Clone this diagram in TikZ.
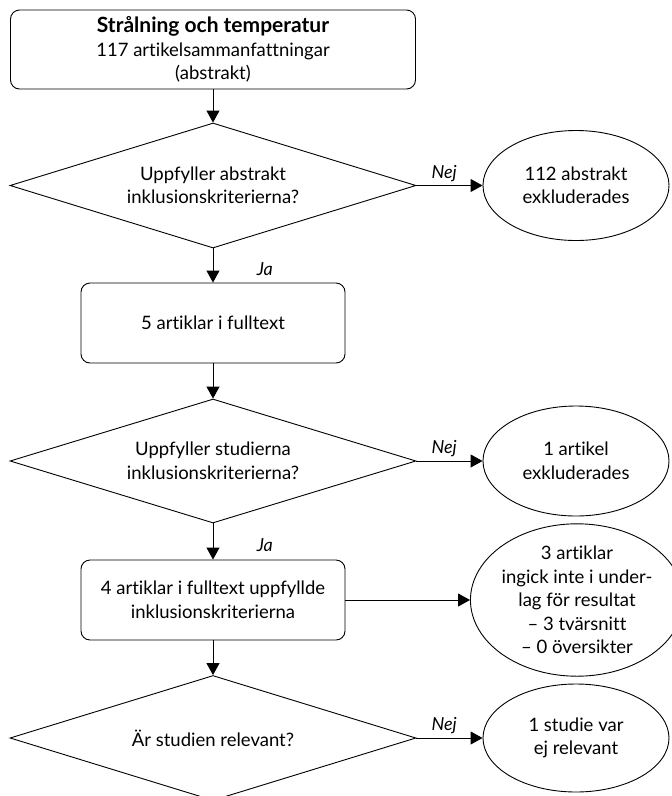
\documentclass[tikz,border=0pt]{standalone}
\usepackage{fontspec}
\setmainfont{Lato}[Ligatures=NoCommon]
\usetikzlibrary{shapes.geometric,arrows.meta}
\begin{document}
\begin{tikzpicture}[x=1pt,y=-1pt,line width=0.9pt,
  every node/.style={font=\fontsize{18.5}{23.5}\selectfont},
  box/.style={draw,rounded corners=9pt,align=center,inner sep=0pt},
  decision/.style={draw,diamond,aspect=3.2,inner sep=0pt,align=center,
    minimum width=406pt},
  outcome/.style={draw,ellipse,inner sep=0pt,align=center,
    minimum width=186pt,minimum height=110pt},
  flow/.style={-{Triangle[length=12pt,width=13pt]}},
  answer/.style={font=\fontsize{18}{20}\selectfont\itshape}]
\useasboundingbox (0,0) rectangle (672,796);

% main column
\node[box,minimum width=405pt,minimum height=79pt] (b1) at (213,49.5)
  {{\fontsize{21}{23.5}\selectfont\bfseries Strålning och temperatur}\\117 artikelsammanfattningar\\(abstrakt)};
\node[decision,minimum height=125pt] (d1) at (213,185.5) {Uppfyller abstrakt\\inklusionskriterierna?};
\node[box,minimum width=264pt,minimum height=80pt] (b2) at (213,323) {5 artiklar i fulltext};
\node[decision,minimum height=124pt] (d2) at (213,461) {Uppfyller studierna\\inklusionskriterierna?};
\node[box,minimum width=264pt,minimum height=80pt] (b3) at (213,600)
  {4 artiklar i fulltext uppfyllde\\inklusionskriterierna};
\node[decision,minimum height=125pt] (d3) at (213,738) {Är studien relevant?};

% side outcomes
\node[outcome] (e1) at (576,185.5) {112 abstrakt\\exkluderades};
\node[outcome] (e2) at (576,461) {1 artikel\\exkluderades};
\node[outcome,minimum width=190pt,minimum height=146pt] (e3) at (577,600)
  {3 artiklar\\ingick inte i under-\\lag för resultat\\– 3 tvärsnitt\\– 0 översikter};
\node[outcome,minimum height=108pt] (e4) at (576,738) {1 studie var\\ej relevant};

% connectors
\draw[flow] (b1.south) -- (d1.north);
\draw[flow] (d1.south) -- node[answer,right=40pt,pos=0.6] {Ja} (b2.north);
\draw[flow] (b2.south) -- (d2.north);
\draw[flow] (d2.south) -- node[answer,right=40pt,pos=0.6] {Ja} (b3.north);
\draw[flow] (b3.south) -- (d3.north);
\draw[flow] (d1.east) -- node[answer,above,pos=0.42] {Nej} (e1.west);
\draw[flow] (d2.east) -- node[answer,above,pos=0.42] {Nej} (e2.west);
\draw[flow] (b3.east) -- (e3.west);
\draw[flow] (d3.east) -- node[answer,above,pos=0.42] {Nej} (e4.west);
\end{tikzpicture}
\end{document}
